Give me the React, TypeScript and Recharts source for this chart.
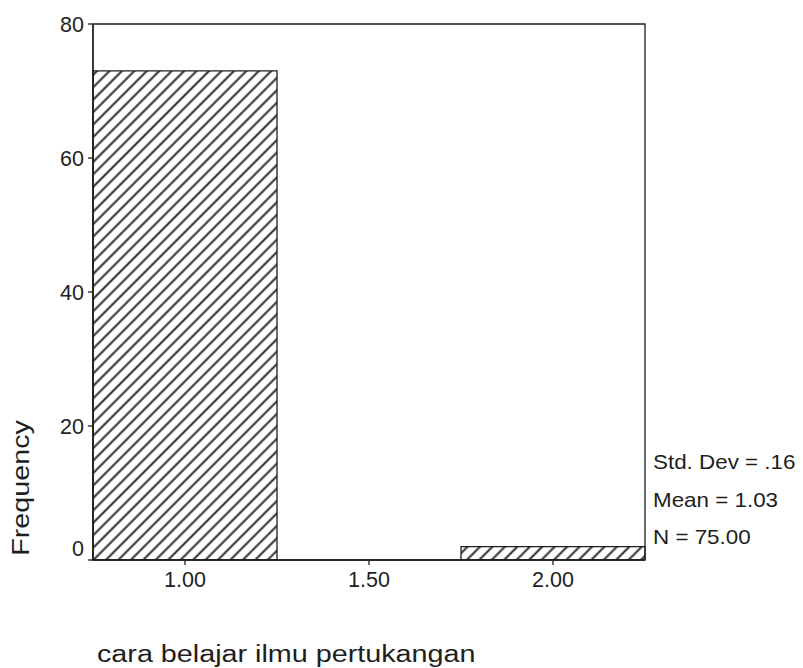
import React from 'react';
import { BarChart, Bar, XAxis, YAxis, ReferenceArea } from 'recharts';

const categories = ['1.00', '1.50', '2.00'];
const frequencies = [73, 0, 2];
const yTicks = [0, 20, 40, 60, 80];
const statLines = ['Std. Dev = .16', 'Mean = 1.03', 'N = 75.00'];
const xTitle = 'cara belajar ilmu pertukangan';
const yTitle = 'Frequency';

const data = categories.map((c, i) => ({ bin: c, freq: frequencies[i] }));

const FONT = '"Liberation Sans", Arial, sans-serif';
const INK = '#1e1e1e';

const YTick = (props: any) => {
  const { x, y, payload } = props;
  const shift = payload.value === 0 ? -12 : 0;
  return (
    <text x={x} y={y + shift} dy="0.355em" textAnchor="end" fontSize={21.5} fontFamily={FONT} fill={INK}>
      {payload.value}
    </text>
  );
};

export default function App() {
  return (
    <div style={{ position: 'absolute', left: 0, top: 0, width: 803, height: 668, background: '#fff' }}>
      <BarChart
        width={803}
        height={668}
        data={data}
        margin={{ top: 24, right: 158, left: 33, bottom: 68 }}
        barCategoryGap={0}
        barGap={0}
      >
        <defs>
          <pattern id="hatch" patternUnits="userSpaceOnUse" width={8.8} height={8.8} patternTransform="rotate(45)">
            <line x1={4.4} y1={0} x2={4.4} y2={8.8} stroke={INK} strokeWidth={1.9} />
          </pattern>
        </defs>
        <XAxis
          dataKey="bin"
          height={40}
          tickSize={5}
          tickMargin={7}
          axisLine={{ stroke: INK, strokeWidth: 1.3 }}
          tickLine={{ stroke: INK, strokeWidth: 1.3 }}
          tick={{ fontSize: 21.5, fontFamily: FONT, fill: INK }}
        />
        <YAxis
          width={60}
          domain={[0, 80]}
          ticks={yTicks}
          tickSize={5}
          tickMargin={4}
          axisLine={{ stroke: INK, strokeWidth: 1.3 }}
          tickLine={{ stroke: INK, strokeWidth: 1.3 }}
          tick={<YTick />}
          allowDataOverflow
        />
        <Bar dataKey="freq" fill="url(#hatch)" stroke={INK} strokeWidth={1.3} isAnimationActive={false} />
        <ReferenceArea y1={0} y2={80} fill="none" fillOpacity={0} stroke={INK} strokeWidth={1.3} />
      </BarChart>
      <svg width={803} height={668} style={{ position: 'absolute', left: 0, top: 0, pointerEvents: 'none' }}>
        <text
          transform="translate(28.5,488) rotate(-90) scale(1.25,1)"
          textAnchor="middle"
          fontSize={23}
          fontFamily={FONT}
          fill={INK}
        >
          {yTitle}
        </text>
        <text transform="translate(97,662) scale(1.25,1)" fontSize={23} fontFamily={FONT} fill={INK}>
          {xTitle}
        </text>
        {statLines.map((s, i) => (
          <text
            key={s}
            transform={`translate(653,${469 + i * 37.5}) scale(1.12,1)`}
            fontSize={20}
            fontFamily={FONT}
            fill={INK}
          >
            {s}
          </text>
        ))}
      </svg>
    </div>
  );
}
